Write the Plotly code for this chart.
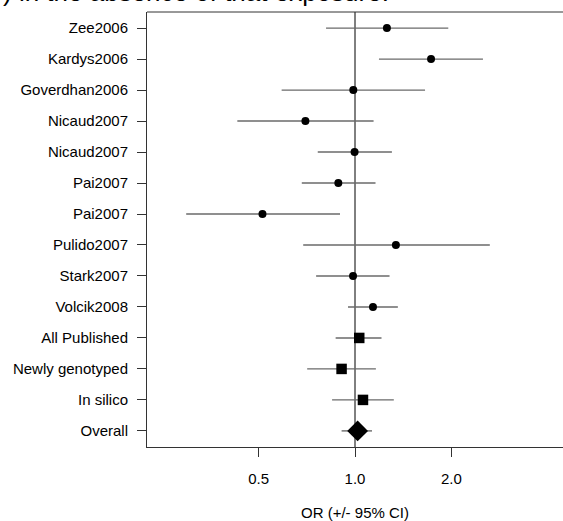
import plotly.graph_objects as go

labels = ["Zee2006", "Kardys2006", "Goverdhan2006", "Nicaud2007", "Nicaud2007",
          "Pai2007", "Pai2007", "Pulido2007", "Stark2007", "Volcik2008",
          "All Published", "Newly genotyped", "In silico", "Overall"]
odds = [1.258, 1.728, 0.988, 0.700, 0.997, 0.887, 0.514, 1.342, 0.986, 1.138,
        1.031, 0.908, 1.059, 1.019]
lower = [0.812, 1.188, 0.590, 0.429, 0.765, 0.682, 0.297, 0.689, 0.756, 0.951,
         0.870, 0.709, 0.848, 0.908]
upper = [1.956, 2.510, 1.655, 1.143, 1.304, 1.159, 0.898, 2.637, 1.282, 1.361,
         1.210, 1.162, 1.322, 1.130]
kinds = ["study"] * 10 + ["summary"] * 3 + ["overall"]
x_ticks = [0.5, 1.0, 2.0]
x_tick_text = ["0.5", "1.0", "2.0"]

n = len(labels)
ypos = [n - i for i in range(n)]

FONT = "Liberation Sans, Arial, Helvetica, sans-serif"

fig = go.Figure()

# CI segments
cx, cy = [], []
for lo, hi, y in zip(lower, upper, ypos):
    cx += [lo, hi, None]
    cy += [y, y, None]
fig.add_trace(go.Scatter(x=cx, y=cy, mode="lines",
                         line=dict(color="#6a6a6a", width=1.4),
                         hoverinfo="skip", showlegend=False))

style = {"study": ("circle", 8), "summary": ("square", 10.5), "overall": ("diamond", 16)}
for kind in ["study", "summary", "overall"]:
    idx = [i for i, k in enumerate(kinds) if k == kind]
    sym, sz = style[kind]
    fig.add_trace(go.Scatter(
        x=[odds[i] for i in idx], y=[ypos[i] for i in idx], mode="markers",
        marker=dict(symbol=sym, size=sz, color="black", line=dict(width=0)),
        showlegend=False))

# reference line at OR = 1
fig.add_shape(type="line", xref="x", yref="paper", x0=1, x1=1, y0=0, y1=1,
              line=dict(color="black", width=1), layer="below")
# top frame line
fig.add_shape(type="line", xref="paper", yref="paper", x0=0, x1=1, y0=1, y1=1,
              line=dict(color="#333333", width=1))

fig.add_annotation(text=") in the absence of that exposure.", xref="paper", yref="paper",
                   x=(391 - 147) / 416, y=1.045, xanchor="right", yanchor="middle",
                   showarrow=False, font=dict(family=FONT, size=26, color="black"))

fig.update_layout(
    width=563, height=521,
    margin=dict(l=147, r=0, t=12, b=74),
    paper_bgcolor="white", plot_bgcolor="white",
    font=dict(family=FONT, size=15, color="black"),
    xaxis=dict(type="log", range=[-0.6497, 0.6497], tickvals=x_ticks, ticktext=x_tick_text,
               showgrid=False, zeroline=False, showline=True, linecolor="#333333", linewidth=1,
               ticks="outside", ticklen=9, tickcolor="#333333", tickwidth=1,
               ticklabelstandoff=9,
               title=dict(text="OR (+/- 95% CI)", standoff=22, font=dict(size=15))),
    yaxis=dict(range=[0.48, 14.52], tickvals=ypos, ticktext=labels,
               showgrid=False, zeroline=False, showline=True, linecolor="#333333", linewidth=1,
               ticks="outside", ticklen=9, tickcolor="#333333", tickwidth=1,
               ticklabelstandoff=6, tickfont=dict(size=15)),
)

fig.write_html("out.html", config={"displayModeBar": False},
               post_script="document.body.style.margin='0';document.body.style.overflow='hidden';")
